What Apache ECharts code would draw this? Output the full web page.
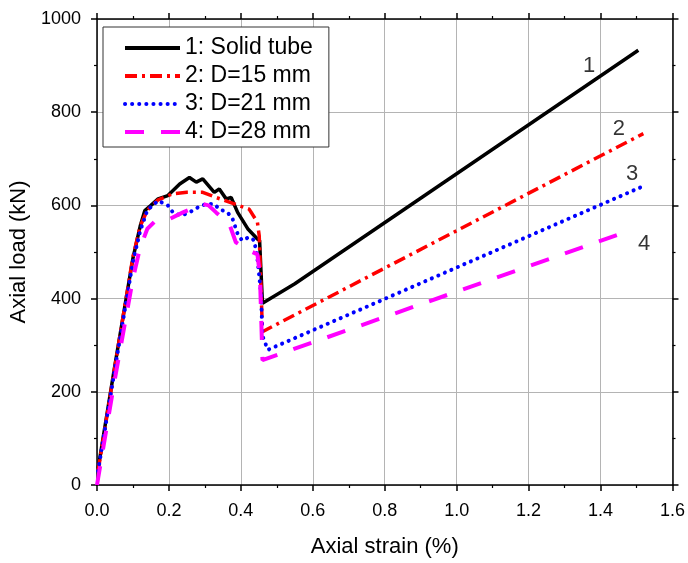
<!DOCTYPE html>
<html>
<head>
<meta charset="utf-8">
<script src="https://cdn.jsdelivr.net/npm/echarts@6/dist/echarts.min.js"></script>
<style>
  html, body { margin: 0; padding: 0; background: #fff; }
  #main { width: 688px; height: 563px; }
</style>
</head>
<body>
<div id="main"></div>
<script>
// axial strain (%) / axial load (kN)
var solidTube = [[0.003, 35], [0.05, 258], [0.10, 487], [0.12, 555], [0.133, 589], [0.15, 600],
  [0.17, 614], [0.197, 621], [0.23, 646], [0.257, 660], [0.276, 650], [0.294, 657], [0.326, 628],
  [0.34, 635], [0.359, 614], [0.373, 617], [0.391, 585], [0.419, 550], [0.446, 528], [0.452, 525],
  [0.46, 390], [0.55, 432], [1.505, 933]]
var d15 = [[0.003, 30], [0.05, 255], [0.10, 490], [0.12, 555], [0.14, 590], [0.17, 612], [0.211, 625],
  [0.25, 628], [0.294, 628], [0.331, 617], [0.368, 607], [0.423, 592], [0.446, 564], [0.451, 535],
  [0.46, 329], [1.519, 754]]
var d21 = [[0.003, 30], [0.05, 250], [0.10, 480], [0.12, 545], [0.14, 590], [0.17, 610], [0.197, 600],
  [0.211, 585], [0.234, 578], [0.257, 585], [0.29, 600], [0.31, 603], [0.326, 603], [0.34, 592],
  [0.363, 585], [0.377, 571], [0.391, 539], [0.403, 525], [0.423, 532], [0.437, 525], [0.446, 486],
  [0.456, 411], [0.46, 320], [0.475, 290], [1.518, 641]]
var d28 = [[0, 0], [0.05, 229], [0.10, 443], [0.119, 507], [0.14, 550], [0.16, 565], [0.202, 571],
  [0.239, 585], [0.294, 603], [0.31, 600], [0.331, 585], [0.368, 560], [0.386, 521], [0.423, 503],
  [0.446, 495], [0.453, 450], [0.46, 268], [1.474, 544]]

var seriesNames = ['1: Solid tube', '2: D=15 mm', '3: D=21 mm', '4: D=28 mm']
var curveTags = ['1', '2', '3', '4']
var tagPos = [[1.368, 899], [1.451, 764], [1.488, 668], [1.521, 518]]

var xTicks = [0, 0.2, 0.4, 0.6, 0.8, 1.0, 1.2, 1.4, 1.6]
var yTicks = [0, 200, 400, 600, 800, 1000]

var myChart = echarts.init(document.getElementById('main'))

var FONT = 'Liberation Sans, Arial, sans-serif'

function xAxisOf (pos, show) {
  return {
    type: 'value', position: pos, min: xTicks[0], max: xTicks[xTicks.length - 1], interval: 0.2,
    axisLine: { show: true, onZero: false, lineStyle: { color: '#000', width: 1.5 } },
    axisTick: { show: true, inside: false, length: 6, lineStyle: { color: '#000', width: 1.5 } },
    minorTick: { show: true, splitNumber: 2, length: 3, lineStyle: { color: '#000', width: 1.2 } },
    splitLine: { show: show, lineStyle: { color: '#b4b4b4', width: 1 } },
    axisLabel: { show: show, fontSize: 18, color: '#000', fontFamily: FONT, margin: 17,
      formatter: function (v) { return v.toFixed(1) } },
    name: show ? 'Axial strain (%)' : '', nameLocation: 'middle', nameGap: 51,
    nameTextStyle: { fontSize: 22, color: '#000', fontFamily: FONT }
  }
}
function yAxisOf (pos, show) {
  return {
    type: 'value', position: pos, min: yTicks[0], max: yTicks[yTicks.length - 1], interval: 200,
    axisLine: { show: true, onZero: false, lineStyle: { color: '#000', width: 1.5 } },
    axisTick: { show: true, inside: false, length: 6, lineStyle: { color: '#000', width: 1.5 } },
    minorTick: { show: true, splitNumber: 2, length: 3, lineStyle: { color: '#000', width: 1.2 } },
    splitLine: { show: show, lineStyle: { color: '#b4b4b4', width: 1 } },
    axisLabel: { show: show, fontSize: 18, color: '#000', fontFamily: FONT, margin: 16,
      formatter: function (v) { return String(v) } },
    name: show ? 'Axial load (kN)' : '', nameLocation: 'middle', nameGap: 57, nameRotate: 90,
    nameTextStyle: { fontSize: 22, color: '#000', fontFamily: FONT }
  }
}

function curve (name, data, color, width, type, cap) {
  return {
    name: name, type: 'line', data: data, xAxisIndex: 0, yAxisIndex: 0,
    symbol: 'none', showSymbol: false, animation: false, z: 3,
    lineStyle: { color: color, width: width, type: type, cap: cap || 'butt' },
    itemStyle: { color: color }
  }
}

var option = {
  animation: false,
  backgroundColor: '#fff',
  grid: { left: 97, right: 15, top: 19, bottom: 76 },
  xAxis: [xAxisOf('bottom', true), xAxisOf('top', false)],
  yAxis: [yAxisOf('left', true), yAxisOf('right', false)],
  legend: {
    orient: 'vertical', left: 103, top: 27,
    data: seriesNames,
    itemWidth: 55, itemHeight: 14, itemGap: 4,
    padding: [9, 16, 3, 20],
    itemStyle: { opacity: 0 },
    lineStyle: { width: 4 },
    borderColor: '#333', borderWidth: 1, backgroundColor: '#fff',
    textStyle: { fontSize: 23, color: '#000', fontFamily: FONT, lineHeight: 24 }
  },
  series: [
    curve(seriesNames[0], solidTube, '#000000', 3.5, 'solid'),
    curve(seriesNames[1], d15, '#ff0000', 3.5, [12, 5, 3, 5]),
    curve(seriesNames[2], d21, '#0000ff', 4, [0.1, 7], 'round'),
    curve(seriesNames[3], d28, '#ff00ff', 4, [19, 17]),
    {
      type: 'scatter', symbolSize: 0, silent: true, animation: false,
      data: tagPos.map(function (p, i) { return { value: p, name: curveTags[i] } }),
      label: { show: true, position: 'inside', fontSize: 22, color: '#000', fontFamily: FONT,
        formatter: function (p) { return p.name } }
    }
  ]
}

myChart.setOption(option)
</script>
</body>
</html>
